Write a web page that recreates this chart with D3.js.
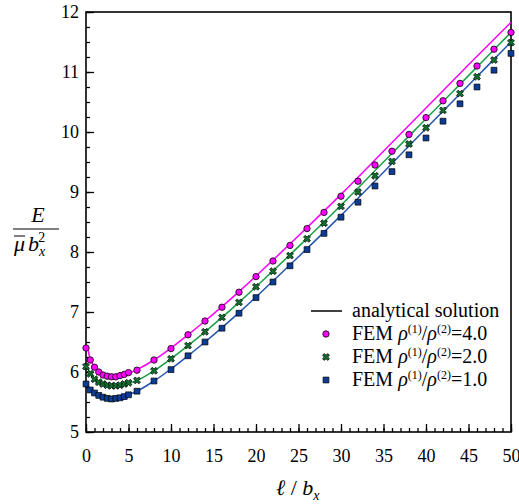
<!DOCTYPE html>
<html>
<head>
<meta charset="utf-8">
<script src="https://cdn.jsdelivr.net/npm/d3@7"></script>
<style>
  body { margin: 0; background: #fff; }
</style>
</head>
<body>
<svg id="chart" width="519" height="504"></svg>
<script>
// analytical curves
var lineX = [0.2, 0.5, 1, 1.5, 2, 3, 4, 5, 6, 8, 10, 12, 14, 16, 18, 20, 25, 30, 35, 40, 45, 50];
var anaRho4 = [6.40, 6.22, 6.08, 6.00, 5.95, 5.92, 5.94, 5.98, 6.04, 6.20, 6.40, 6.62, 6.85, 7.09, 7.34, 7.60, 8.27, 8.96, 9.68, 10.40, 11.12, 11.83];
var anaRho2 = [6.08, 5.97, 5.88, 5.83, 5.80, 5.77, 5.78, 5.81, 5.86, 6.02, 6.22, 6.44, 6.67, 6.91, 7.16, 7.42, 8.09, 8.78, 9.50, 10.22, 10.94, 11.66];
var anaRho1 = [5.78, 5.70, 5.64, 5.60, 5.58, 5.56, 5.58, 5.62, 5.68, 5.85, 6.05, 6.27, 6.50, 6.74, 6.99, 7.25, 7.92, 8.61, 9.33, 10.06, 10.78, 11.50];

// FEM points
var femX = [0, 0.5, 1, 1.5, 2, 2.5, 3, 3.5, 4, 4.5, 5, 6, 8, 10, 12, 14, 16, 18, 20, 22, 24, 26, 28, 30, 32, 34, 36, 38, 40, 42, 44, 46, 48, 50];
var femRho4 = [6.40, 6.20, 6.08, 6.00, 5.95, 5.93, 5.92, 5.92, 5.94, 5.96, 5.99, 6.03, 6.20, 6.39, 6.62, 6.85, 7.08, 7.33, 7.59, 7.85, 8.11, 8.39, 8.66, 8.93, 9.18, 9.45, 9.68, 9.96, 10.24, 10.52, 10.81, 11.10, 11.38, 11.66];
var femRho2 = [6.09, 5.97, 5.88, 5.83, 5.80, 5.78, 5.77, 5.77, 5.78, 5.80, 5.82, 5.86, 6.02, 6.22, 6.44, 6.67, 6.91, 7.16, 7.42, 7.68, 7.94, 8.22, 8.48, 8.76, 9.00, 9.27, 9.51, 9.80, 10.07, 10.36, 10.64, 10.92, 11.20, 11.49];
var femRho1 = [5.80, 5.70, 5.65, 5.61, 5.58, 5.56, 5.55, 5.56, 5.57, 5.59, 5.62, 5.68, 5.85, 6.04, 6.27, 6.50, 6.73, 6.98, 7.24, 7.50, 7.77, 8.04, 8.31, 8.58, 8.83, 9.10, 9.34, 9.62, 9.90, 10.18, 10.47, 10.75, 11.03, 11.31];

var xTicks = [0, 5, 10, 15, 20, 25, 30, 35, 40, 45, 50];
var yTicks = [5, 6, 7, 8, 9, 10, 11, 12];
var ratioLabels = ["4.0", "2.0", "1.0"];

var FONT = "'Liberation Serif', 'Times New Roman', serif";

var svg = d3.select("#chart"),
    margin = {top: 12, right: 8, bottom: 72, left: 86},
    width = +svg.attr("width") - margin.left - margin.right,
    height = +svg.attr("height") - margin.top - margin.bottom,
    g = svg.append("g").attr("transform", "translate(" + margin.left + "," + margin.top + ")");

var x = d3.scaleLinear().domain([0, 50]).range([0, width]),
    y = d3.scaleLinear().domain([5, 12]).range([height, 0]);

// minor ticks
g.append("g")
    .attr("transform", "translate(0," + height + ")")
    .call(d3.axisBottom(x).ticks(50).tickSize(-4).tickFormat(""))
    .call(function(a) { a.select(".domain").remove(); });
g.append("g")
    .call(d3.axisLeft(y).tickValues(d3.range(5, 12.01, 0.25)).tickSize(-4).tickFormat(""))
    .call(function(a) { a.select(".domain").remove(); });

// major ticks + labels
var xAxis = g.append("g")
    .attr("transform", "translate(0," + height + ")")
    .call(d3.axisBottom(x).tickValues(xTicks).tickFormat(d3.format("d")).tickSize(-8).tickPadding(17));
var yAxis = g.append("g")
    .call(d3.axisLeft(y).tickValues(yTicks).tickFormat(d3.format("d")).tickSize(-8).tickPadding(7));
[xAxis, yAxis].forEach(function(a) {
  a.attr("font-family", FONT).attr("font-size", 18);
  a.select(".domain").remove();
});
g.selectAll(".tick line").attr("stroke-width", 1.3);

// frame
g.append("rect")
    .attr("width", width).attr("height", height)
    .attr("fill", "none").attr("stroke", "#000").attr("stroke-width", 1.6);

// curves
var line = d3.line()
    .curve(d3.curveCatmullRom)
    .x(function(d) { return x(d[0]); })
    .y(function(d) { return y(d[1]); });

var curves = [
  {vals: anaRho4, color: "#ff00ff"},
  {vals: anaRho2, color: "#19a046"},
  {vals: anaRho1, color: "#2456b0"}
];
curves.forEach(function(c) {
  g.append("path")
      .datum(lineX.map(function(v, i) { return [v, c.vals[i]]; }))
      .attr("d", line)
      .attr("fill", "none")
      .attr("stroke", c.color)
      .attr("stroke-width", 1.5);
});

// markers
var symSquare = d3.symbol().type(d3.symbolSquare).size(34),
    symCross = d3.symbol().type(d3.symbolCross).size(30);

function drawCircle(sel) {
  sel.append("circle").attr("r", 3.2)
      .attr("fill", "#ff00ff").attr("stroke", "#000").attr("stroke-width", 0.8);
}
function drawCross(sel) {
  sel.append("path").attr("d", symCross).attr("transform", "rotate(45)")
      .attr("fill", "#107030").attr("stroke", "#000").attr("stroke-width", 0.7);
}
function drawSquare(sel) {
  sel.append("path").attr("d", symSquare)
      .attr("fill", "#0a3c96").attr("stroke", "#000").attr("stroke-width", 0.7);
}

var series = [
  {vals: femRho1, draw: drawSquare},
  {vals: femRho2, draw: drawCross},
  {vals: femRho4, draw: drawCircle}
];
series.forEach(function(s) {
  g.append("g").selectAll("g")
      .data(femX.map(function(v, i) { return [v, s.vals[i]]; }))
      .enter().append("g")
      .attr("transform", function(d) { return "translate(" + x(d[0]) + "," + y(d[1]) + ")"; })
      .each(function() { s.draw(d3.select(this)); });
});

// legend
var leg = svg.append("g").attr("font-family", FONT).attr("font-size", 20);
leg.append("line").attr("x1", 311).attr("x2", 342).attr("y1", 311).attr("y2", 311)
    .attr("stroke", "#000").attr("stroke-width", 1.5);
leg.append("text").attr("x", 352).attr("y", 317).text("analytical solution");

var legDraw = [drawCircle, drawCross, drawSquare];
ratioLabels.forEach(function(r, i) {
  var cy = 334 + i * 23;
  var m = leg.append("g").attr("transform", "translate(326," + cy + ")");
  legDraw[i](m);
  var t = leg.append("text").attr("x", 352).attr("y", cy + 6);
  t.append("tspan").text("FEM ");
  t.append("tspan").style("font-style", "italic").text("ρ");
  t.append("tspan").attr("font-size", 12).attr("dy", -7).text("(1)");
  t.append("tspan").attr("dy", 7).text("/");
  t.append("tspan").style("font-style", "italic").text("ρ");
  t.append("tspan").attr("font-size", 12).attr("dy", -7).text("(2)");
  t.append("tspan").attr("dy", 7).text("=" + r);
});

// y label: E / (mu-bar b_x^2)
var yl = svg.append("g").attr("font-family", FONT).attr("font-size", 22);
yl.append("text").attr("x", 38).attr("y", 222).attr("text-anchor", "middle")
    .style("font-style", "italic").text("E");
yl.append("line").attr("x1", 13).attr("x2", 59).attr("y1", 229).attr("y2", 229)
    .attr("stroke", "#000").attr("stroke-width", 1);
var den = yl.append("text").attr("x", 14).attr("y", 251);
den.append("tspan").style("font-style", "italic").text("μ");
den.append("tspan").style("font-style", "italic").attr("dx", 3).text("b");
den.append("tspan").style("font-style", "italic").attr("font-size", 14).attr("dy", 5).text("x");
den.append("tspan").attr("font-size", 14).attr("dx", -7).attr("dy", -14).text("2");
yl.append("line").attr("x1", 14).attr("x2", 25).attr("y1", 236).attr("y2", 236)
    .attr("stroke", "#000").attr("stroke-width", 1);

// x label
var xl = svg.append("text").attr("x", 276).attr("y", 495)
    .attr("font-family", FONT).attr("font-size", 22);
xl.append("tspan").style("font-style", "italic").text("ℓ");
xl.append("tspan").text(" / ");
xl.append("tspan").style("font-style", "italic").text("b");
xl.append("tspan").style("font-style", "italic").attr("font-size", 14).attr("dy", 5).text("x");
</script>
</body>
</html>
